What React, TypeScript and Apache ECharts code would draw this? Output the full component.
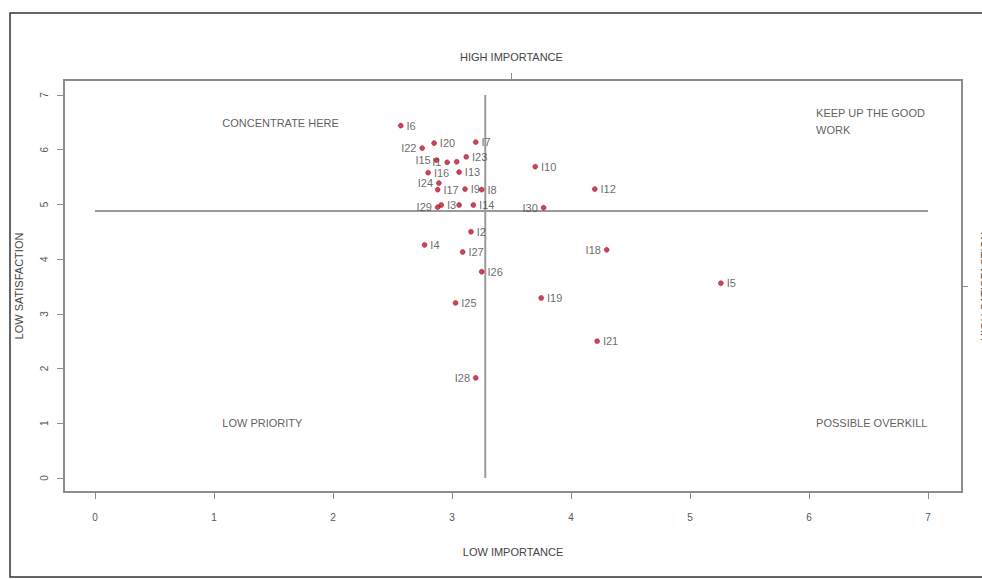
import React, { useEffect, useRef } from "react";
import * as echarts from "echarts";

// ---- data ----
const itemNames = [
  "I1", "I2", "I3", "I4", "I5", "I6", "I7", "I8", "I9", "I10",
  "I11", "I12", "I13", "I14", "I15", "I16", "I17", "I18", "I19", "I20",
  "I21", "I22", "I23", "I24", "I25", "I26", "I27", "I28", "I29", "I30", "",
];
const importance = [
  2.96, 3.16, 2.91, 2.77, 5.26, 2.57, 3.2, 3.25, 3.11, 3.7,
  3.04, 4.2, 3.06, 3.18, 2.87, 2.8, 2.88, 4.3, 3.75, 2.85,
  4.22, 2.75, 3.12, 2.89, 3.03, 3.25, 3.09, 3.2, 2.88, 3.77, 3.06,
];
const satisfaction = [
  5.77, 4.5, 4.99, 4.26, 3.56, 6.44, 6.14, 5.27, 5.28, 5.69,
  5.78, 5.28, 5.59, 4.99, 5.81, 5.58, 5.27, 4.17, 3.29, 6.12,
  2.5, 6.03, 5.87, 5.39, 3.2, 3.77, 4.13, 1.83, 4.95, 4.94, 4.99,
];
const labelSide = [
  "left", "right", "right", "right", "right", "right", "right", "right", "right", "right",
  "none", "right", "right", "right", "left", "right", "right", "left", "right", "right",
  "right", "left", "right", "left", "right", "right", "right", "left", "left", "left", "none",
];
const importanceCut = 3.28;
const satisfactionCut = 4.88;
const axisTicks = [0, 1, 2, 3, 4, 5, 6, 7];
const quadrantNames = ["CONCENTRATE HERE", "KEEP UP THE GOOD\nWORK", "LOW PRIORITY", "POSSIBLE OVERKILL"];
const quadrantX = [1.07, 6.06, 1.07, 6.06];
const quadrantY = [6.49, 6.52, 1.0, 1.0];

const FONT = '"Liberation Sans Narrow", "Liberation Sans", Arial, sans-serif';

export default function App() {
  const ref = useRef<HTMLDivElement>(null);
  useEffect(() => {
    if (!ref.current) return;
    const chart = echarts.init(ref.current, null, { renderer: "svg" });
    const xMin = -0.26, xMax = 7.286, yMin = -0.256, yMax = 7.274;
    const gray = "#8c8c8c";
    const points = itemNames.map((n, i) => ({
      name: n,
      value: [importance[i], satisfaction[i]],
      label: { show: labelSide[i] !== "none", position: labelSide[i] === "none" ? "right" : labelSide[i] },
    }));
    const quad = quadrantNames.map((n, i) => ({ name: n, value: [quadrantX[i], quadrantY[i]] }));
    const hiddenLine = { show: false, onZero: false };
    chart.setOption({
      animation: false,
      backgroundColor: "#ffffff",
      grid: {
        left: 64, right: 20, top: 80, bottom: 87, show: true, borderColor: gray, borderWidth: 2,
        containLabel: false, outerBoundsMode: "none",
      },
      xAxis: [
        {
          type: "value", min: xMin, max: xMax, position: "bottom",
          splitLine: { show: false }, axisLine: hiddenLine,
          axisTick: { show: true, customValues: axisTicks, length: 7, lineStyle: { color: gray, width: 1 } },
          axisLabel: { customValues: axisTicks, margin: 20, color: "#555", fontSize: 10, fontFamily: FONT },
          name: "LOW IMPORTANCE", nameLocation: "middle", nameGap: 54,
          nameTextStyle: { color: "#444", fontSize: 11, fontFamily: FONT },
        },
        {
          type: "value", min: xMin, max: xMax, position: "top",
          splitLine: { show: false }, axisLine: hiddenLine,
          axisTick: { show: true, customValues: [3.5], length: 7, lineStyle: { color: gray, width: 1 } },
          axisLabel: { customValues: [3.5], margin: 18, color: "#444", fontSize: 11, fontFamily: FONT, formatter: () => "HIGH IMPORTANCE" },
        },
      ],
      yAxis: [
        {
          type: "value", min: yMin, max: yMax, position: "left",
          splitLine: { show: false }, axisLine: hiddenLine,
          axisTick: { show: true, customValues: axisTicks, length: 7, lineStyle: { color: gray, width: 1 } },
          axisLabel: { customValues: axisTicks, margin: 15, rotate: 90, color: "#555", fontSize: 10, fontFamily: FONT },
          name: "LOW SATISFACTION", nameLocation: "middle", nameGap: 40, nameRotate: 90,
          nameTextStyle: { color: "#444", fontSize: 11, fontFamily: FONT },
        },
        {
          type: "value", min: yMin, max: yMax, position: "right",
          splitLine: { show: false }, axisLine: hiddenLine,
          axisTick: { show: true, customValues: [3.5], length: 6, lineStyle: { color: gray, width: 1 } },
          axisLabel: { customValues: [3.5], margin: 17, rotate: 90, color: "#444", fontSize: 11, fontFamily: FONT, formatter: () => "HIGH SATISFACTION" },
        },
      ],
      series: [
        {
          type: "line", xAxisIndex: 0, yAxisIndex: 0, symbol: "none", silent: true,
          data: [[importanceCut, 0], [importanceCut, 7]],
          lineStyle: { color: "#9a9a9a", width: 2 },
        },
        {
          type: "line", xAxisIndex: 0, yAxisIndex: 0, symbol: "none", silent: true,
          data: [[0, satisfactionCut], [7, satisfactionCut]],
          lineStyle: { color: "#9a9a9a", width: 2 },
        },
        {
          type: "scatter", xAxisIndex: 0, yAxisIndex: 0, symbolSize: 5,
          itemStyle: { color: "#c8102e", borderColor: "#7a0a1a", borderWidth: 0.5 },
          label: { formatter: "{b}", distance: 3, color: "#444", fontSize: 11, fontFamily: FONT },
          data: points,
          z: 5,
        },
        {
          type: "scatter", xAxisIndex: 0, yAxisIndex: 0, symbolSize: 0, silent: true,
          label: { show: true, position: "right", distance: 0, formatter: "{b}", align: "left", color: "#333", fontSize: 11, lineHeight: 17, fontFamily: FONT },
          data: quad,
        },
      ],
      graphic: [
        {
          type: "rect", shape: { x: 10, y: 13, width: 990, height: 564 },
          style: { fill: "none", stroke: "#333", lineWidth: 1.5 }, silent: true,
        },
      ],
    });
    return () => chart.dispose();
  }, []);
  return <div ref={ref} style={{ position: "fixed", left: 0, top: 0, width: 982, height: 579 }} />;
}
